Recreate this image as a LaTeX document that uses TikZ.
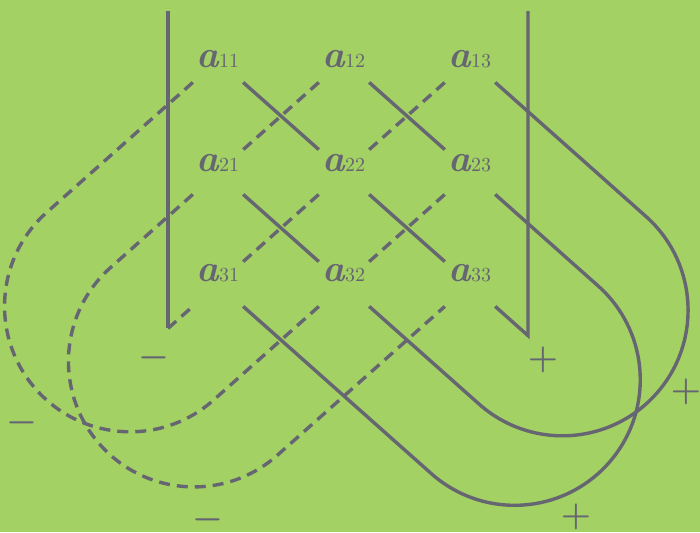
\documentclass[tikz,border=0pt]{standalone}
\definecolor{board}{RGB}{163,209,100}
\definecolor{ink}{RGB}{102,101,114}
\newcommand{\matentry}[1]{{\bfseries\itshape a}{\fontsize{10}{12}\selectfont #1}}
\begin{document}
\begin{tikzpicture}[x=.5pt,y=.5pt,
  elem/.style={text=ink,font=\fontsize{19}{22}\selectfont,inner sep=0pt,
    minimum width=30pt,minimum height=22pt},
  sign/.style={text=ink,font=\fontsize{17}{20}\selectfont\boldmath,inner sep=0pt},
  solidlink/.style={draw=ink,line width=1.7pt},
  dashlink/.style={draw=ink,line width=1.7pt,dash pattern=on 5.5pt off 3.5pt}]
  \fill[board] (0,0) rectangle (700,532);
  \useasboundingbox (0,0) rectangle (700,532);
  \foreach \i/\lift in {1/1,2/9,3/11} {
    \foreach \j in {1,2,3} {
      \node[elem,text depth=\lift pt] (a\i\j) at ({218+126*(\j-1)},{472-112*(\i-1)}) {\matentry{\i\j}};
    }
  }
  \coordinate (lt) at (168,521);
  \coordinate (lb) at (168,203.6);
  \coordinate (rt) at (528,521);
  \coordinate (rb) at (528,196.4);
  \coordinate (t1) at (645.9,315.6);
  \coordinate (t2) at (598.1,246.1);
  \coordinate (t3) at (46.7,319.6);
  \coordinate (t4) at (110.6,264.5);
  % positive terms
  \draw[solidlink] (lt) -- (lb);
  \draw[solidlink] (rt) -- (rb) -- (a33);
  \draw[solidlink] (a11) -- (a22) (a22) -- (a33);
  \draw[solidlink] (a12) -- (a23) (a23) -- (t2)
    arc[start angle=48.37,end angle=-131.63,radius=125.56] -- (a31);
  \draw[solidlink] (a13) -- (t1)
    arc[start angle=48.37,end angle=-131.63,radius=125.56] -- (a32) (a32) -- (a21);
  % negative terms
  \draw[dashlink] (lb) -- (a31) (a31) -- (a22) (a22) -- (a13);
  \draw[dashlink] (a11) -- (t3)
    arc[start angle=131.63,end angle=311.63,radius=125.56] -- (a32) (a32) -- (a23);
  \draw[dashlink] (a12) -- (a21) (a21) -- (t4)
    arc[start angle=131.63,end angle=311.63,radius=125.56] -- (a33);
  \node[sign] (neg1) at (154,174) {$-$};
  \node[sign] (neg2) at (22,109) {$-$};
  \node[sign] (neg3) at (208,12) {$-$};
  \node[sign] (pos1) at (543,172) {$+$};
  \node[sign] (pos2) at (686,140) {$+$};
  \node[sign] (pos3) at (576,15) {$+$};
\end{tikzpicture}
\end{document}
